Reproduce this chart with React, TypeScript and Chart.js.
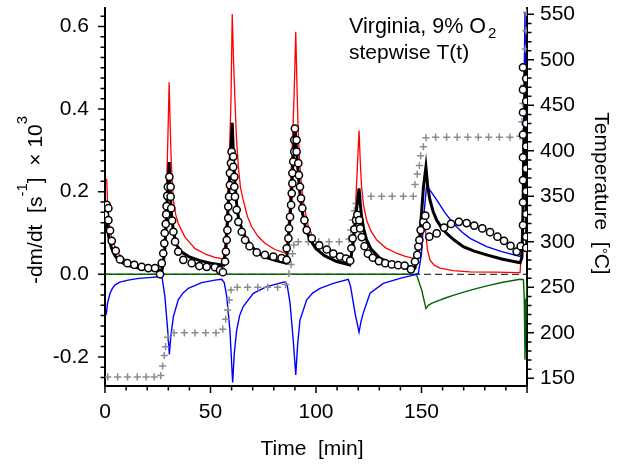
import React, { useEffect, useRef } from 'react';
import { Chart, registerables } from 'chart.js';

Chart.register(...registerables);

// ---- Data (time in min, rate in 1e-3 s^-1, temperature in °C) ----
const circleT = [
  0.0, 0.8, 1.6, 1.6, 2.4, 3.2, 5.1, 7.1, 10.6, 13.9, 17.4, 20.5, 23.7, 26.1,
  26.9, 27.6, 28.1, 28.3, 28.8, 29.0, 29.2, 29.5, 29.8, 30.5, 31.1, 31.1, 31.4, 31.8, 32.4, 33.2, 34.7, 37.1, 41.1, 44.7, 48.2, 52.1, 54.5, 55.9,
  56.9, 57.3, 57.7, 58.0, 58.4, 58.4, 58.8, 59.2, 59.2, 59.7, 60.0, 60.8, 60.8, 61.3, 61.3, 61.6, 62.4, 63.2, 64.8, 66.4, 68.5, 71.9, 75.8, 79.8, 83.7,
  86.1, 86.1, 86.9, 87.2, 87.7, 88.2, 88.5, 88.8, 88.8, 89.2, 89.7, 89.7, 90.0, 90.8, 90.8, 91.6, 91.9, 92.4, 92.9, 93.5, 94.5, 95.6, 98.0, 101.5, 105.1, 108.2, 111.4, 114.2,
  116.2, 116.8, 117.4, 118.2, 119.0, 119.6, 120.5, 120.9, 121.7, 123.0, 124.6, 126.9, 129.8, 132.8, 135.9, 138.9, 142.0, 145.0,
  146.9, 148.0, 148.5, 149.0, 149.6, 150.9, 151.8, 152.4, 153.7, 157.2, 160.7, 164.0, 167.7, 171.4, 175.0, 178.8, 182.5, 186.0, 189.1, 192.2, 195.1, 197.0,
  198.1, 198.1, 198.1, 198.1, 198.1, 198.1, 198.1, 198.1,
  199.6, 199.6, 199.6, 199.6, 199.6, 199.6, 199.6, 199.6, 199.6,
];
const circleY = [
  0.144, 0.168, 0.160, 0.131, 0.106, 0.081, 0.057, 0.036, 0.027, 0.023, 0.018, 0.015, 0.015, 0.000,
  0.027, 0.051, 0.075, 0.100, 0.122, 0.145, 0.165, 0.190, 0.212, 0.236, 0.212, 0.188, 0.160, 0.130, 0.103, 0.079, 0.055, 0.035, 0.027, 0.020, 0.018, 0.017, 0.010, 0.005,
  0.031, 0.055, 0.083, 0.107, 0.136, 0.164, 0.188, 0.216, 0.245, 0.269, 0.297, 0.285, 0.260, 0.236, 0.212, 0.188, 0.156, 0.127, 0.103, 0.083, 0.068, 0.053, 0.047, 0.043, 0.039,
  0.035, 0.063, 0.087, 0.111, 0.139, 0.168, 0.196, 0.220, 0.245, 0.273, 0.297, 0.325, 0.353, 0.325, 0.297, 0.269, 0.240, 0.212, 0.184, 0.160, 0.131, 0.107, 0.087, 0.070, 0.060, 0.050, 0.043, 0.038,
  0.033, 0.063, 0.087, 0.109, 0.131, 0.144, 0.131, 0.111, 0.090, 0.068, 0.050, 0.040, 0.032, 0.027, 0.024, 0.022, 0.021, 0.012,
  0.031, 0.047, 0.067, 0.083, 0.107, 0.127, 0.142, 0.117, 0.091, 0.099, 0.113, 0.122, 0.127, 0.124, 0.118, 0.111, 0.102, 0.091, 0.081, 0.069, 0.055, 0.068,
  0.119, 0.174, 0.228, 0.283, 0.338, 0.392, 0.447, 0.501,
  0.474, 0.419, 0.365, 0.310, 0.256, 0.201, 0.146, 0.091, 0.064,
];

const blackT = [
  1.0, 1.5, 2.0, 3.0, 4.0, 5.0, 7.0, 10.0, 14.0, 20.0, 27.0,
  28.2, 29.0, 29.7, 30.4, 31.0, 31.6, 32.5, 34.0, 36.0, 40.0, 45.0, 50.0, 56.2,
  57.3, 58.2, 59.2, 60.3, 61.0, 61.6, 62.4, 63.2, 64.8, 66.4, 69.0, 72.7, 77.0, 81.0, 85.8,
  86.8, 88.0, 89.2, 90.0, 90.8, 91.6, 92.5, 93.5, 95.0, 97.0, 100.0, 104.0, 109.8, 116.0,
  117.5, 118.8, 120.4, 121.0, 121.6, 122.6, 124.0, 126.0, 130.3, 135.0, 141.4, 146.9,
  148.3, 149.3, 150.9, 152.1, 153.0, 154.0, 155.5, 157.2, 159.5, 161.9, 165.5, 169.8, 175.0, 180.9, 188.0, 196.7,
  197.6, 198.1, 198.6, 199.05, 199.5, 199.9,
];
const blackY = [
  0.127, 0.100, 0.085, 0.065, 0.052, 0.043, 0.032, 0.023, 0.017, 0.012, 0.009,
  0.050, 0.120, 0.200, 0.272, 0.190, 0.140, 0.100, 0.070, 0.055, 0.042, 0.033, 0.027, 0.022,
  0.060, 0.140, 0.250, 0.367, 0.270, 0.220, 0.170, 0.139, 0.110, 0.091, 0.070, 0.051, 0.040, 0.033, 0.027,
  0.070, 0.160, 0.280, 0.357, 0.300, 0.240, 0.190, 0.150, 0.115, 0.085, 0.062, 0.045, 0.031, 0.023,
  0.070, 0.140, 0.208, 0.170, 0.139, 0.110, 0.083, 0.062, 0.039, 0.027, 0.018, 0.015,
  0.050, 0.099, 0.210, 0.260, 0.210, 0.180, 0.152, 0.131, 0.113, 0.099, 0.083, 0.067, 0.056, 0.047, 0.037, 0.028,
  0.040, 0.150, 0.350, 0.500, 0.300, 0.060,
];

const redT = [
  0.8, 1.2, 1.8, 2.5, 3.5, 4.7, 6.5, 9.5, 13.0, 17.3, 22.0, 27.0,
  28.0, 29.0, 29.8, 30.4, 30.9, 31.4, 32.4, 33.5, 34.7, 37.9, 42.7, 48.0, 52.0, 56.1,
  56.9, 57.7, 58.8, 59.7, 60.3, 60.9, 61.6, 62.3, 63.2, 64.2, 65.5, 67.5, 69.5, 72.5, 75.8, 80.5, 85.6,
  86.6, 87.6, 88.6, 89.6, 90.4, 91.0, 91.6, 92.3, 93.2, 94.5, 96.4, 99.0, 101.9, 106.5, 111.4, 116.0,
  117.0, 118.5, 119.6, 120.4, 121.0, 121.6, 122.6, 124.0, 126.0, 128.8, 133.0, 138.2, 142.0, 146.6,
  148.2, 149.3, 150.5, 151.5, 152.2, 152.8, 154.0, 156.0, 158.8, 165.0, 173.0, 185.0, 196.7,
  197.5, 198.1, 198.6, 199.05, 199.5, 199.9,
];
const redY = [
  0.231, 0.175, 0.135, 0.105, 0.082, 0.067, 0.050, 0.036, 0.027, 0.021, 0.018, 0.017,
  0.060, 0.170, 0.330, 0.465, 0.360, 0.270, 0.180, 0.145, 0.123, 0.090, 0.062, 0.048, 0.041, 0.037,
  0.080, 0.139, 0.260, 0.420, 0.630, 0.520, 0.420, 0.330, 0.260, 0.210, 0.180, 0.140, 0.115, 0.092, 0.075, 0.060, 0.051,
  0.100, 0.180, 0.290, 0.430, 0.587, 0.450, 0.340, 0.270, 0.210, 0.160, 0.115, 0.085, 0.067, 0.053, 0.043, 0.036,
  0.070, 0.139, 0.260, 0.348, 0.270, 0.212, 0.165, 0.131, 0.105, 0.083, 0.064, 0.051, 0.044, 0.038,
  0.060, 0.083, 0.105, 0.127, 0.090, 0.060, 0.035, 0.022, 0.015, 0.009, 0.006, 0.005, 0.004,
  0.059, 0.180, 0.330, 0.450, 0.250, 0.050,
];

const blueT = [
  0.6, 1.2, 2.4, 3.5, 4.7, 7.0, 11.0, 16.0, 21.0, 25.3, 27.0,
  28.4, 29.7, 30.5, 31.2, 32.4, 34.7, 37.0, 39.5, 45.8, 52.1, 55.3,
  56.5, 57.7, 59.2, 60.5, 61.3, 62.4, 63.8, 65.5, 70.3, 76.6, 85.3,
  86.3, 87.7, 89.2, 90.4, 91.3, 92.4, 95.6, 98.5, 101.9, 108.2, 115.3,
  116.4, 118.5, 120.4, 121.3, 122.4, 125.6, 131.9, 139.8, 146.1,
  148.5, 150.0, 151.2, 152.4, 154.5, 157.2, 161.0, 165.1, 169.0, 173.0, 180.9, 188.0, 196.7,
  197.6, 198.0, 198.5, 199.05, 199.5, 199.9,
];
const blueY = [
  -0.098, -0.070, -0.046, -0.034, -0.026, -0.019, -0.014, -0.010, -0.008, -0.006, -0.006,
  -0.054, -0.135, -0.194, -0.150, -0.103, -0.062, -0.045, -0.034, -0.020, -0.014, -0.012,
  -0.020, -0.054, -0.135, -0.262, -0.190, -0.135, -0.100, -0.078, -0.046, -0.030, -0.018,
  -0.025, -0.070, -0.159, -0.244, -0.170, -0.111, -0.062, -0.045, -0.034, -0.022, -0.012,
  -0.030, -0.094, -0.140, -0.115, -0.094, -0.046, -0.022, -0.010, -0.002,
  0.002, 0.050, 0.148, 0.214, 0.200, 0.180, 0.150, 0.123, 0.103, 0.087, 0.067, 0.055, 0.043,
  0.050, 0.150, 0.400, 0.636, 0.350, 0.060,
];

const greenT = [0, 146.0, 147.7, 150.1, 152.1, 153.2, 155.0, 158.0, 161.0, 165.0, 170.0, 175.0, 181.0, 188.0, 196.7, 198.3, 198.7, 199.05, 199.5, 200.0];
const greenY = [0, 0, -0.002, -0.038, -0.083, -0.075, -0.070, -0.064, -0.058, -0.051, -0.043, -0.036, -0.028, -0.020, -0.012, -0.013, -0.060, -0.207, -0.100, -0.014];

const tempT = [
  1.3, 6.0, 10.7, 15.3, 19.5, 23.3, 26.4, 27.3, 28.1, 28.7, 29.7,
  32.7, 37.6, 42.7, 47.7, 52.6, 55.8, 57.2, 58.1, 58.9, 59.7,
  62.7, 67.6, 72.4, 77.1, 81.8, 85.6, 87.2, 88.2, 88.9, 89.5,
  91.6, 96.4, 101.3, 106.2, 111.0, 115.6, 116.5, 117.4, 118.2, 119.0,
  120.9, 126.1, 131.1, 136.1, 141.4, 146.1, 146.9, 148.0, 149.0, 149.6, 150.9, 152.1,
  156.7, 161.9, 166.9, 171.9, 176.9, 181.8, 186.9, 191.9, 196.7,
  197.6, 198.1, 198.5, 198.9, 199.2, 199.5, 199.8,
];
const tempV = [
  151.5, 151.5, 151.5, 151.5, 151.5, 151.5, 153, 163.5, 175, 184.7, 195,
  200, 200, 200, 200, 200, 204, 215, 225, 236, 247,
  250, 250, 250, 250, 250, 253, 265, 275, 287, 296.5,
  300, 300, 300, 300, 300, 303, 313, 324, 334, 342,
  350, 350, 350, 350, 350, 350, 363, 374.5, 384, 394.6, 404.5, 414.4,
  415, 415, 415, 415, 415, 415, 415, 415, 416,
  432, 452, 472, 492, 512, 532, 552,
];

const zeroT = [0, 200];
const zeroY = [0, 0];

const X_MIN = 0, X_MAX = 200, X_MAJOR = 50, X_MINOR = 10;
const Y_MIN = -0.2705, Y_MAX = 0.6448, Y_MAJOR = 0.2, Y_MINOR = 0.025;
const T_MIN = 141.5, T_MAX = 557, T_MAJOR = 50, T_MINOR = 10;

const FONT = '"Liberation Sans", Arial, Helvetica, sans-serif';

const pts = (xs: number[], ys: number[]) => xs.map((x, i) => ({ x, y: ys[i] }));

type Run = { t: string; size: number; dy: number; dx?: number };

function drawRuns(ctx: CanvasRenderingContext2D, runs: Run[], x: number, y: number, align: 'left' | 'center') {
  let w = 0;
  for (const r of runs) {
    ctx.font = `${r.size}px ${FONT}`;
    w += ctx.measureText(r.t).width + (r.dx || 0);
  }
  let cx = align === 'center' ? x - w / 2 : x;
  ctx.textAlign = 'left';
  ctx.textBaseline = 'alphabetic';
  for (const r of runs) {
    ctx.font = `${r.size}px ${FONT}`;
    cx += r.dx || 0;
    ctx.fillText(r.t, cx, y + r.dy);
    cx += ctx.measureText(r.t).width;
  }
}

const decorPlugin = {
  id: 'decor',
  afterDraw(chart: any) {
    const { ctx, chartArea: a, scales } = chart;
    const sx = scales.x, sy = scales.y, s2 = scales.y2;
    ctx.save();
    ctx.strokeStyle = '#000';
    ctx.lineWidth = 1.5;
    ctx.beginPath();
    const nx = Math.round((X_MAX - X_MIN) / X_MINOR);
    for (let k = 0; k <= nx; k++) {
      const v = X_MIN + k * X_MINOR;
      const px = sx.getPixelForValue(v);
      const len = Math.abs(v / X_MAJOR - Math.round(v / X_MAJOR)) < 1e-6 ? 7 : 4.5;
      ctx.moveTo(px, a.bottom);
      ctx.lineTo(px, a.bottom + len);
    }
    for (let k = Math.ceil(Y_MIN / Y_MINOR); k <= Math.floor(Y_MAX / Y_MINOR); k++) {
      const v = k * Y_MINOR;
      const py = sy.getPixelForValue(v);
      const len = k % Math.round(Y_MAJOR / Y_MINOR) === 0 ? 7 : 4.5;
      ctx.moveTo(a.left, py);
      ctx.lineTo(a.left - len, py);
    }
    for (let v = Math.ceil(T_MIN / T_MINOR) * T_MINOR; v <= T_MAX; v += T_MINOR) {
      const py = s2.getPixelForValue(v);
      const len = v % T_MAJOR === 0 ? 7 : 4.5;
      ctx.moveTo(a.right, py);
      ctx.lineTo(a.right + len, py);
    }
    ctx.stroke();

    ctx.fillStyle = '#000';
    // x title
    drawRuns(ctx, [{ t: 'Time  [min]', size: 21, dy: 0 }], 312, 455, 'center');
    // left title
    ctx.save();
    ctx.translate(41.5, 200);
    ctx.rotate(-Math.PI / 2);
    drawRuns(ctx, [
      { t: '-dm/dt  [s', size: 21, dy: 0 },
      { t: '-1', size: 15, dy: -15 },
      { t: ']  \u00d7 10', size: 21, dy: 0 },
      { t: '3', size: 15, dy: -15 },
    ], 0, 0, 'center');
    ctx.restore();
    // right title
    ctx.save();
    ctx.translate(595, 193.5);
    ctx.rotate(Math.PI / 2);
    drawRuns(ctx, [
      { t: 'Temperature  [', size: 21, dy: 0 },
      { t: '\u00b0', size: 15, dy: -2 },
      { t: 'C]', size: 21, dy: 0 },
    ], 0, 0, 'center');
    ctx.restore();
    // annotation
    drawRuns(ctx, [
      { t: 'Virginia, 9% O', size: 21.5, dy: 0 },
      { t: '2', size: 15, dy: 5, dx: 2 },
    ], 349, 32.5, 'left');
    drawRuns(ctx, [{ t: 'stepwise T(t)', size: 21, dy: 0 }], 349, 58.5, 'left');
    ctx.restore();
  },
};

const fixBox = (w: number | null, h: number | null) => (s: any) => {
  if (w !== null) s.width = w;
  if (h !== null) s.height = h;
  s.paddingTop = 0;
  s.paddingBottom = 0;
  s.paddingLeft = 0;
  s.paddingRight = 0;
};

export default function App() {
  const ref = useRef<HTMLCanvasElement>(null);
  useEffect(() => {
    const canvas = ref.current;
    if (!canvas) return;
    Chart.defaults.font.family = FONT;
    Chart.defaults.font.size = 21;
    Chart.defaults.color = '#000';
    const lineBase = { showLine: true, pointRadius: 0, tension: 0, fill: false };
    const chart = new Chart(canvas, {
      type: 'scatter',
      data: {
        datasets: [
          {
            label: 'data',
            data: pts(circleT, circleY),
            showLine: false,
            pointStyle: 'circle',
            pointRadius: 3.6,
            pointBorderWidth: 1.5,
            pointBackgroundColor: '#ffffff',
            pointBorderColor: '#000000',
            order: 0,
            yAxisID: 'y',
          },
          {
            label: 'fit',
            data: pts(blackT, blackY),
            ...lineBase,
            borderColor: '#000000',
            borderWidth: 3,
            order: 1,
            yAxisID: 'y',
          },
          {
            label: 'T',
            data: pts(tempT, tempV),
            showLine: false,
            pointStyle: 'cross',
            pointRadius: 3.6,
            pointBorderWidth: 1.5,
            pointBorderColor: '#8c8c8c',
            pointBackgroundColor: '#8c8c8c',
            order: 2,
            yAxisID: 'y2',
          },
          {
            label: 'blue',
            data: pts(blueT, blueY),
            ...lineBase,
            borderColor: '#0000ff',
            borderWidth: 1.4,
            order: 3,
            yAxisID: 'y',
          },
          {
            label: 'red',
            data: pts(redT, redY),
            ...lineBase,
            borderColor: '#ff0000',
            borderWidth: 1.3,
            order: 4,
            yAxisID: 'y',
          },
          {
            label: 'green',
            data: pts(greenT, greenY),
            ...lineBase,
            borderColor: '#006400',
            borderWidth: 1.4,
            order: 5,
            yAxisID: 'y',
          },
          {
            label: 'zero',
            data: pts(zeroT, zeroY),
            ...lineBase,
            borderColor: '#000000',
            borderWidth: 1,
            borderDash: [7, 4],
            order: 6,
            yAxisID: 'y',
          },
        ],
      },
      options: {
        animation: false,
        responsive: false,
        devicePixelRatio: 1,
        events: [],
        layout: { padding: { top: 8, left: 0, right: 0, bottom: 0 } },
        plugins: { legend: { display: false }, tooltip: { enabled: false }, title: { display: false } },
        scales: {
          x: {
            type: 'linear',
            position: 'bottom',
            min: X_MIN,
            max: X_MAX,
            ticks: {
              stepSize: X_MAJOR,
              padding: 7,
              maxRotation: 0,
              autoSkip: false,
              callback: (v: any) => (Number(v) >= X_MAX ? '' : String(v)),
            },
            grid: { display: false, drawTicks: true, tickLength: 7 },
            border: { display: true, color: '#000', width: 2 },
            afterFit: fixBox(null, 78),
          },
          y: {
            type: 'linear',
            position: 'left',
            min: Y_MIN,
            max: Y_MAX,
            ticks: {
              stepSize: Y_MAJOR,
              includeBounds: false,
              padding: 9,
              callback: (v: any) => (Math.abs(Number(v)) < 1e-9 ? 0 : Number(v)).toFixed(1),
            },
            grid: { display: false, drawTicks: true, tickLength: 7 },
            border: { display: true, color: '#000', width: 2 },
            afterFit: fixBox(105, null),
          },
          y2: {
            type: 'linear',
            position: 'right',
            min: T_MIN,
            max: T_MAX,
            ticks: { stepSize: T_MAJOR, includeBounds: false, padding: 6 },
            grid: { display: false, drawTicks: true, tickLength: 7 },
            border: { display: true, color: '#000', width: 2 },
            afterFit: fixBox(98, null),
          },
        },
      },
      plugins: [decorPlugin],
    } as any);
    return () => chart.destroy();
  }, []);
  return (
    <div style={{ position: 'absolute', left: 0, top: 0, width: 625, height: 464, background: '#fff' }}>
      <canvas ref={ref} width={625} height={464} style={{ width: 625, height: 464, display: 'block' }} />
    </div>
  );
}
